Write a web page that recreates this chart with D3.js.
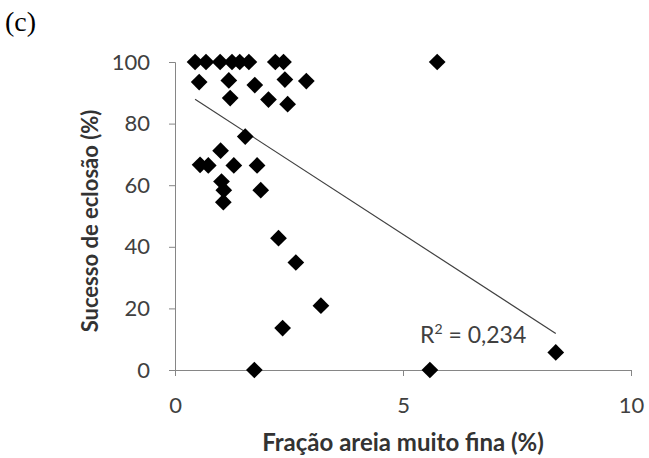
<!DOCTYPE html>
<html>
<head>
<meta charset="utf-8">
<script src="https://cdn.jsdelivr.net/npm/d3@7"></script>
<style>
  body { margin: 0; background: #fff; }
  svg { display: block; }
</style>
</head>
<body>
<div id="chart"></div>
<script>
// fraction of very fine sand (%) vs hatching success (%)
const fraction = [0.44, 0.68, 0.99, 1.25, 1.42, 1.62, 2.2, 2.38, 5.75,
    0.53, 1.18, 1.75, 2.41, 2.88,
    1.21, 2.05, 2.47,
    1.54, 1.0, 0.55, 0.73, 1.29, 1.8, 1.02, 1.07, 1.06, 1.88,
    2.27, 2.65, 3.2, 2.36, 1.74, 5.59, 8.35];
const success = [100, 100, 100, 100, 100, 100, 100, 100, 100,
    93.5, 94, 92.5, 94.3, 93.8,
    88.3, 87.8, 86.3,
    75.8, 71.2, 66.6, 66.4, 66.4, 66.4, 61.2, 58.4, 54.5, 58.4,
    42.8, 34.9, 20.9, 13.6, 0, 0, 5.7];
const xTicks = [0, 5, 10];
const yTicks = [0, 20, 40, 60, 80, 100];
const trendSlope = -9.61;
const trendIntercept = 92.1;
const r2Text = "0,234";

const width = 649, height = 458;
const margin = {left: 175, right: 18, top: 62, bottom: 88};

const svg = d3.select("#chart").append("svg")
    .attr("width", width)
    .attr("height", height);

const x = d3.scaleLinear().domain([0, 10]).range([margin.left, width - margin.right]);
const y = d3.scaleLinear().domain([0, 100]).range([height - margin.bottom, margin.top]);

const axisColor = "#868686";
const textColor = "#404040";

// y axis
const yAxis = svg.append("g")
    .attr("transform", `translate(${margin.left},0)`)
    .call(d3.axisLeft(y).tickValues(yTicks).tickSizeOuter(0).tickSize(6).tickPadding(19));

// x axis
const xAxis = svg.append("g")
    .attr("transform", `translate(0,${y(0)})`)
    .call(d3.axisBottom(x).tickValues(xTicks).tickSizeOuter(0).tickSize(6).tickPadding(21));

[xAxis, yAxis].forEach(g => {
    g.selectAll("path, line").attr("stroke", axisColor).attr("stroke-width", 1);
    g.selectAll("text")
        .attr("fill", textColor)
        .style("font-family", "Lato, sans-serif")
        .style("font-size", "22px");
});

// trend line from min to max x
const xExt = d3.extent(fraction);
svg.append("line")
    .attr("x1", x(xExt[0]))
    .attr("y1", y(trendIntercept + trendSlope * xExt[0]))
    .attr("x2", x(xExt[1]))
    .attr("y2", y(trendIntercept + trendSlope * xExt[1]))
    .attr("stroke", "#404040")
    .attr("stroke-width", 1.2);

// diamonds
const diamond = d3.symbol().type(d3.symbolSquare).size(140);
svg.append("g")
    .selectAll("path")
    .data(fraction.map((d, i) => [d, success[i]]))
    .enter()
    .append("path")
    .attr("d", diamond)
    .attr("transform", d => `translate(${x(d[0])},${y(d[1])}) rotate(45)`)
    .attr("fill", "#000");

// R² label
const r2 = svg.append("text")
    .attr("x", 420)
    .attr("y", 343)
    .attr("fill", textColor)
    .style("font-family", "Lato, sans-serif")
    .style("font-size", "23px");
r2.append("tspan").text("R");
r2.append("tspan").attr("dy", -9).style("font-size", "14px").text("2");
r2.append("tspan").attr("dy", 9).text(" = " + r2Text);

// axis titles
svg.append("text")
    .attr("x", (margin.left + width - margin.right) / 2)
    .attr("y", 451)
    .attr("text-anchor", "middle")
    .attr("fill", "#333")
    .style("font-family", "Lato, sans-serif")
    .style("font-weight", "bold")
    .style("font-size", "24px")
    .text("Fração areia muito fina (%)");

svg.append("text")
    .attr("transform", `translate(98,${(y(0) + y(100)) / 2 + 5}) rotate(-90)`)
    .attr("text-anchor", "middle")
    .attr("fill", "#333")
    .style("font-family", "Lato, sans-serif")
    .style("font-weight", "bold")
    .style("font-size", "22px")
    .text("Sucesso de eclosão (%)");

// panel letter
svg.append("text")
    .attr("x", 5)
    .attr("y", 31)
    .attr("fill", "#000")
    .style("font-family", "'Liberation Serif', 'Times New Roman', serif")
    .style("font-size", "28px")
    .text("(c)");
</script>
</body>
</html>
